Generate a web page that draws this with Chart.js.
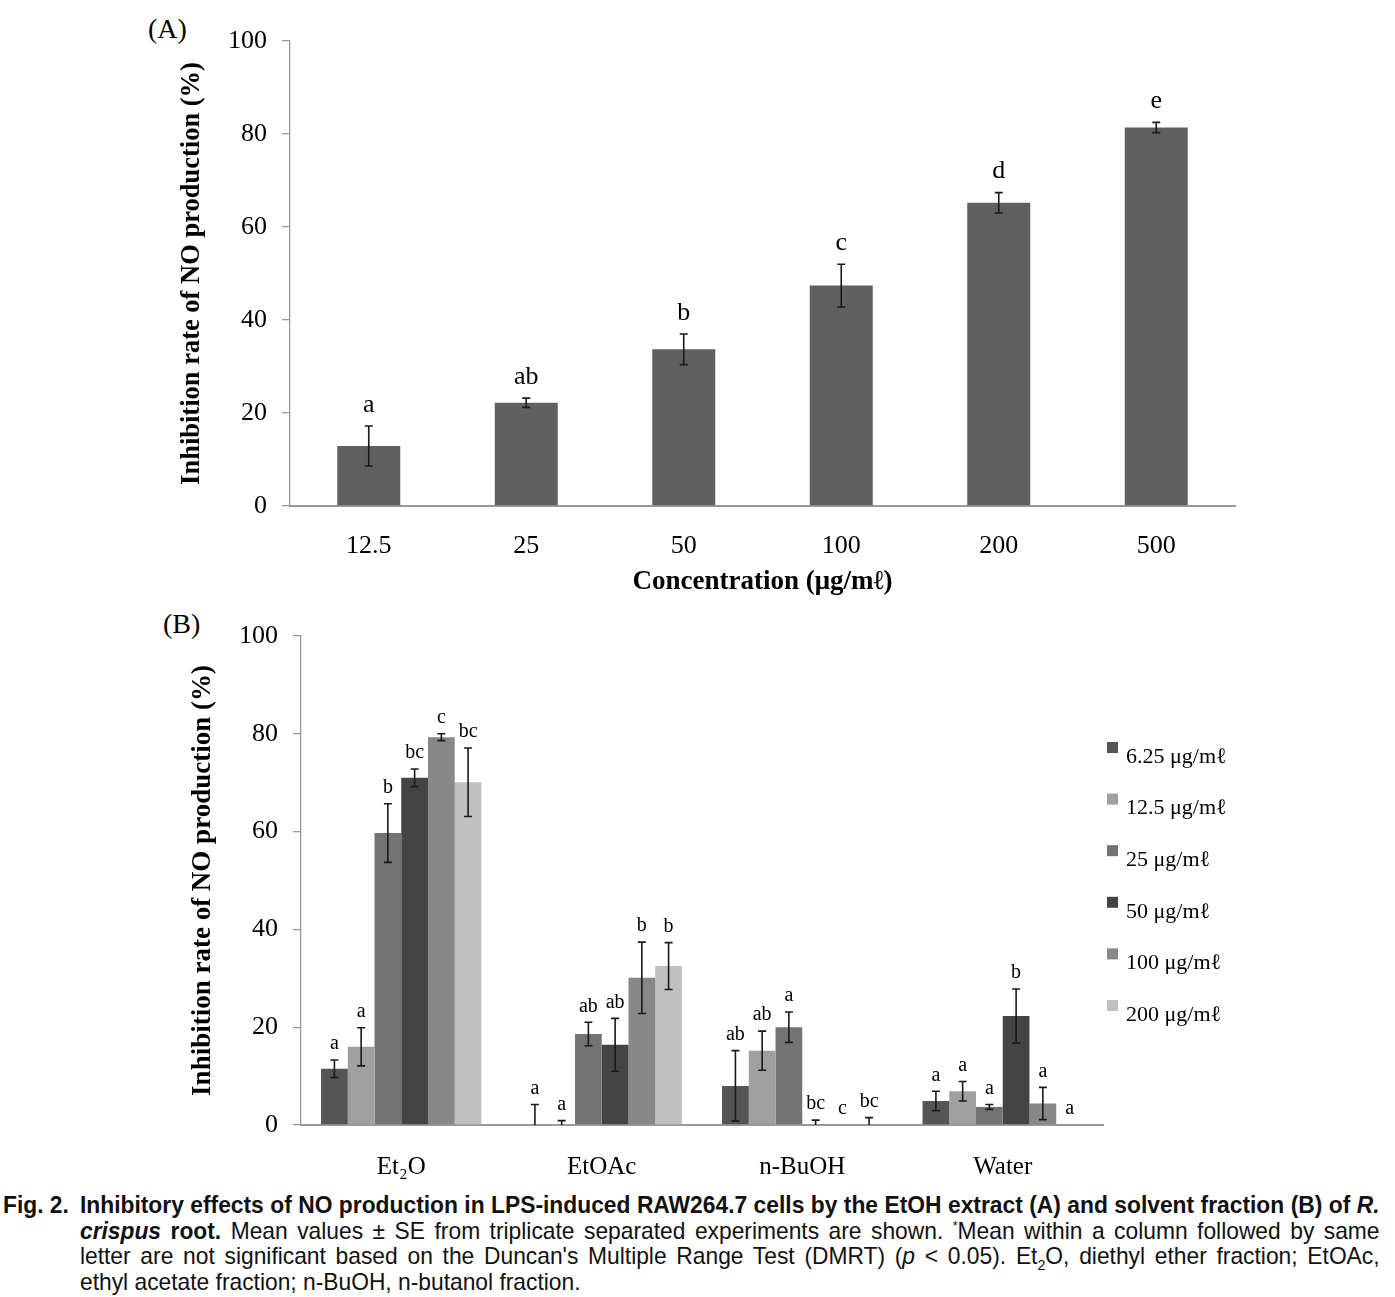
<!DOCTYPE html>
<html>
<head>
<meta charset="utf-8">
<script src="https://cdn.jsdelivr.net/npm/chart.js@4.4.1/dist/chart.umd.min.js"></script>
<style>
    body { margin: 0; background: #fff; width: 1395px; height: 1297px; position: relative; overflow: hidden; }
    #chartA { position: absolute; left: 0; top: 0; }
    #chartB { position: absolute; left: 0; top: 600px; }
    .panel { position: absolute; font-family: "Liberation Serif", serif; font-size: 28px; color: #000; }
    .caption { position: absolute; left: 3px; top: 1192px; width: 1449px; color: #111;
        transform: scaleX(0.95); transform-origin: 0 0;
        font-family: "Liberation Sans", Arial, sans-serif; font-size: 24px; line-height: 25.5px; }
    .caption .ln { padding-left: 81px; text-align: justify; text-align-last: justify; white-space: nowrap; }
    .caption .ln.first { text-indent: -81px; }
    .caption .fig { display: inline-block; width: 81px; text-indent: 0; text-align: left; text-align-last: left; }
    .caption .ln.last { text-align-last: left; }
    .caption sub { font-size: 15px; line-height: 0; }
    .caption sup { font-size: 13px; line-height: 0; }
</style>
</head>
<body>
<div class="panel" style="left:148px;top:13px;">(A)</div>
<div class="panel" style="left:163px;top:608px;">(B)</div>
<canvas id="chartA" width="1395" height="600"></canvas>
<canvas id="chartB" width="1395" height="585"></canvas>
<div class="caption">
    <div class="ln first"><b><span class="fig">Fig. 2.</span>Inhibitory effects of NO production in LPS-induced RAW264.7 cells by the EtOH extract (A) and solvent fraction (B) of <i>R.</i></b></div>
    <div class="ln"><b><i>crispus</i> root.</b> Mean values ± SE from triplicate separated experiments are shown. <sup>*</sup>Mean within a column followed by same</div>
    <div class="ln">letter are not significant based on the Duncan's Multiple Range Test (DMRT) (<i>p</i> &lt; 0.05). Et<sub>2</sub>O, diethyl ether fraction; EtOAc,</div>
    <div class="ln last">ethyl acetate fraction; n-BuOH, n-butanol fraction.</div>
</div>
<script>
// (A) EtOH extract
const concentrations = ["12.5", "25", "50", "100", "200", "500"];
const inhibitionA = [12.9, 22.2, 33.7, 47.4, 65.2, 81.4];
const errorA = [4.3, 1.0, 3.3, 4.6, 2.2, 1.1];
const lettersA = ["a", "ab", "b", "c", "d", "e"];

// (B) solvent fractions
const fractions = ["Et\u2082O", "EtOAc", "n-BuOH", "Water"];
const doseLabels = ["6.25 \u03bcg/m\u2113", "12.5 \u03bcg/m\u2113", "25 \u03bcg/m\u2113", "50 \u03bcg/m\u2113", "100 \u03bcg/m\u2113", "200 \u03bcg/m\u2113"];
const dose625 = [11.5, 0, 8.0, 4.9];
const dose125 = [16.0, 0, 15.2, 6.9];
const dose25 = [59.7, 18.6, 20.0, 3.7];
const dose50 = [71.0, 16.4, 0, 22.3];
const dose100 = [79.3, 30.1, 0, 4.4];
const dose200 = [70.1, 32.5, 0, 0];
const err625 = [1.8, 4.2, 7.2, 2.0];
const err125 = [3.9, 0.9, 4.0, 2.0];
const err25 = [6.0, 2.4, 3.1, 0.5];
const err50 = [1.8, 5.4, 1.0, 5.5];
const err100 = [0.7, 7.3, 0, 3.3];
const err200 = [7.0, 4.8, 1.5, 0];
const let625 = ["a", "a", "ab", "a"];
const let125 = ["a", "a", "ab", "a"];
const let25 = ["b", "ab", "a", "a"];
const let50 = ["bc", "ab", "bc", "b"];
const let100 = ["c", "b", "c", "a"];
const let200 = ["bc", "b", "bc", "a"];
const doseColors = ["#555555", "#a0a0a0", "#737373", "#444444", "#888888", "#c0c0c0"];

const yTicks = [0, 20, 40, 60, 80, 100];
const serif = "'Liberation Serif', 'Times New Roman', serif";

// error bars + significance letters
const errorBarPlugin = {
    id: "errorBars",
    afterDatasetsDraw(chart, args, opts) {
        const ctx = chart.ctx;
        const y = chart.scales.y;
        const area = chart.chartArea;
        chart.data.datasets.forEach((ds, di) => {
            const meta = chart.getDatasetMeta(di);
            meta.data.forEach((bar, i) => {
                const v = ds.data[i];
                const e = ds.errors[i];
                const x = bar.x;
                const yTop = y.getPixelForValue(v + e);
                const yBot = Math.min(y.getPixelForValue(v - e), area.bottom);
                ctx.save();
                if (e > 0) {
                    ctx.strokeStyle = "#1a1a1a";
                    ctx.lineWidth = 1.6;
                    ctx.beginPath();
                    ctx.moveTo(x, yTop);
                    ctx.lineTo(x, yBot);
                    ctx.moveTo(x - opts.cap, yTop);
                    ctx.lineTo(x + opts.cap, yTop);
                    if (yBot < area.bottom - 1) {
                        ctx.moveTo(x - opts.cap, yBot);
                        ctx.lineTo(x + opts.cap, yBot);
                    }
                    ctx.stroke();
                }
                ctx.fillStyle = "#000";
                ctx.font = opts.font;
                ctx.textAlign = "center";
                ctx.textBaseline = "middle";
                ctx.fillText(ds.letters[i], x, yTop - opts.gap);
                ctx.restore();
            });
        });
    }
};

const legendPlugin = {
    id: "sideLegend",
    afterDraw(chart, args, opts) {
        if (!opts.show) return;
        const ctx = chart.ctx;
        ctx.save();
        ctx.font = "22px " + serif;
        ctx.textBaseline = "middle";
        ctx.textAlign = "left";
        chart.data.datasets.forEach((ds, i) => {
            const ty = opts.top + i * opts.step;
            ctx.fillStyle = ds.backgroundColor;
            ctx.fillRect(opts.left, ty - 15, 11, 11);
            ctx.fillStyle = "#000";
            ctx.fillText(ds.label, opts.left + 19, ty);
        });
        ctx.restore();
    }
};

function yScale(titleSize, titlePad) {
    return {
        min: 0,
        max: 100,
        afterBuildTicks: s => { s.ticks = yTicks.map(v => ({ value: v })); },
        afterFit: s => { s.width = 126; },
        grid: { drawOnChartArea: false, drawTicks: true, tickLength: 8, color: "#999", lineWidth: 1.3 },
        border: { display: true, color: "#999", width: 1.3 },
        ticks: { color: "#000", padding: 15, font: { family: serif, size: 26 } },
        title: {
            display: true,
            text: "Inhibition rate of NO production (%)",
            color: "#000",
            font: { family: serif, size: titleSize, weight: "bold" },
            padding: { top: titlePad, bottom: 0 }
        }
    };
}

new Chart(document.getElementById("chartA"), {
    type: "bar",
    data: {
        labels: concentrations,
        datasets: [{
            label: "EtOH extract",
            data: inhibitionA,
            errors: errorA,
            letters: lettersA,
            backgroundColor: "#606060",
            barPercentage: 0.4,
            categoryPercentage: 1.0
        }]
    },
    options: {
        responsive: false,
        animation: false,
        layout: { padding: { left: 164, right: 160, top: 41, bottom: 0 } },
        plugins: {
            legend: { display: false },
            tooltip: { enabled: false },
            errorBars: { cap: 4, gap: 21, font: "26px " + serif },
            sideLegend: { show: false }
        },
        scales: {
            x: {
                afterFit: s => { s.height = 94; },
                grid: { display: false, drawTicks: false },
                border: { display: true, color: "#999", width: 2 },
                ticks: { color: "#000", padding: 25, font: { family: serif, size: 26 } },
                title: {
                    display: true,
                    text: "Concentration (\u03bcg/m\u2113)",
                    color: "#000",
                    font: { family: serif, size: 27, weight: "bold" },
                    padding: { top: 0, bottom: 2 }
                }
            },
            y: yScale(26.5, 12)
        }
    },
    plugins: [errorBarPlugin, legendPlugin]
});

const seriesB = [dose625, dose125, dose25, dose50, dose100, dose200];
const errorsB = [err625, err125, err25, err50, err100, err200];
const lettersB = [let625, let125, let25, let50, let100, let200];

new Chart(document.getElementById("chartB"), {
    type: "bar",
    data: {
        labels: fractions,
        datasets: seriesB.map((d, i) => ({
            label: doseLabels[i],
            data: d,
            errors: errorsB[i],
            letters: lettersB[i],
            backgroundColor: doseColors[i],
            barPercentage: 1.0,
            categoryPercentage: 0.8
        }))
    },
    options: {
        responsive: false,
        animation: false,
        layout: { padding: { left: 175, right: 292, top: 36, bottom: 0 } },
        plugins: {
            legend: { display: false },
            tooltip: { enabled: false },
            errorBars: { cap: 4, gap: 16, font: "20px " + serif },
            sideLegend: { show: true, left: 1107, top: 157, step: 51.6 }
        },
        scales: {
            x: {
                afterFit: s => { s.height = 60; },
                grid: { display: false, drawTicks: false },
                border: { display: true, color: "#999", width: 2 },
                ticks: { color: "#000", padding: 27, font: { family: serif, size: 25 } }
            },
            y: yScale(27, 12)
        }
    },
    plugins: [errorBarPlugin, legendPlugin]
});
</script>
</body>
</html>
